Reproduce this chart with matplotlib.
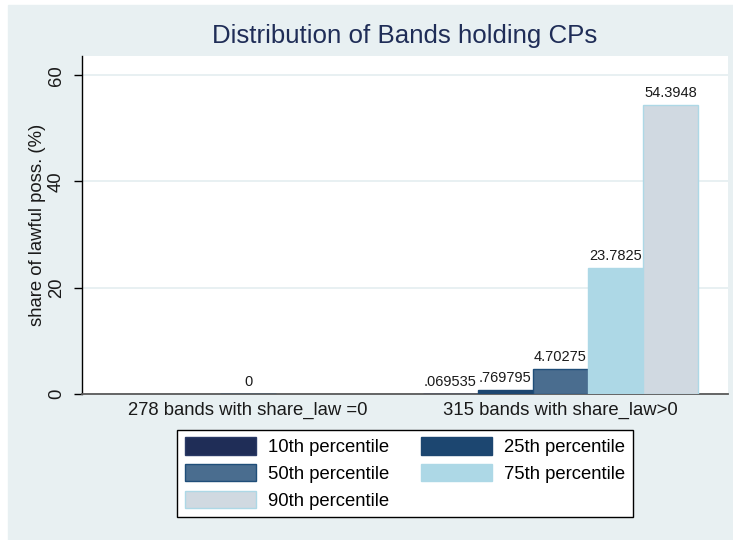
import numpy as np
import matplotlib
matplotlib.use("Agg")
import matplotlib.pyplot as plt
from matplotlib.patches import Rectangle

plt.rcParams["font.family"] = ["Liberation Sans", "DejaVu Sans"]

# ---------------- DATA ----------------
GROUPS = ["278 bands with share_law =0", "315 bands with share_law>0"]
SERIES = ["10th percentile", "25th percentile", "50th percentile",
          "75th percentile", "90th percentile"]
P10 = [np.nan, 0.069535]
P25 = [np.nan, 0.769795]
P50 = [0.0, 4.70275]
P75 = [np.nan, 23.7825]
P90 = [np.nan, 54.3948]
VALUES = [P10, P25, P50, P75, P90]

# ---------------- STYLE ----------------
FILLS = ["#1f2d57", "#1c4670", "#4a6d8f", "#add8e6", "#d0d9e1"]
EDGES = ["#2a3a66", "#1c4670", "#1f4e79", "#add8e6", "#add8e6"]
BG = "#e8f0f2"
FS = 13.3


def stata_fmt(v):
    s = f"{v:g}"
    if s.startswith("0."):
        s = s[1:]
    return s


fig = plt.figure(figsize=(7.33, 5.4), dpi=100, facecolor="white")
fig.patches.append(Rectangle((8 / 733, 0), 725 / 733, 535 / 540,
                             transform=fig.transFigure, color=BG, zorder=-10))

ax = fig.add_axes([81.5 / 733, 1 - 394 / 540, (728 - 81.5) / 733, (394 - 56) / 540])
ax.set_facecolor("white")

x = np.arange(len(GROUPS))
width = 0.1766
handles = []
for j, (name, vals) in enumerate(zip(SERIES, VALUES)):
    pos = x + (j - 2) * width
    bars = ax.bar(pos, vals, width, color=FILLS[j], edgecolor=EDGES[j],
                  linewidth=1, label=name, zorder=3)
    handles.append(bars)
    for px, v in zip(pos, vals):
        if np.isnan(v):
            continue
        ax.annotate(stata_fmt(v), (px, v), xytext=(0, 5.5),
                    textcoords="offset points", ha="center", va="baseline",
                    fontsize=10.5, color="#1a1a1a")

ax.set_xlim(-0.533, 1.536)
ax.set_ylim(0, 63.6)
ax.set_yticks([0, 20, 40, 60])
ax.grid(axis="y", color="#e4edf0", linewidth=1.2, zorder=0)
ax.set_axisbelow(True)

ax.set_xticks(x)
ax.set_xticklabels(GROUPS, fontsize=FS, color="#1a1a1a")
ax.tick_params(axis="x", length=0, pad=5.5)
ax.tick_params(axis="y", length=6, width=1, pad=6, labelsize=FS,
               labelcolor="#1a1a1a")
for lab in ax.get_yticklabels():
    lab.set_rotation(90)
    lab.set_va("center")

for s in ["top", "right"]:
    ax.spines[s].set_visible(False)
ax.spines["left"].set_color("black")
ax.spines["left"].set_linewidth(1)
ax.spines["bottom"].set_color("#5a5a5a")
ax.spines["bottom"].set_linewidth(1.3)

ax.set_ylabel("share of lawful poss. (%)", fontsize=FS, color="#1a1a1a", labelpad=1)

fig.text(404.9 / 733, 1 - 36 / 540, "Distribution of Bands holding CPs",
         ha="center", va="center", fontsize=18.6, color="#1f2d57")

# legend is filled row by row, as in the original
order = [0, 2, 4, 1, 3]
leg = fig.legend([handles[i] for i in order], [SERIES[i] for i in order],
                 loc="center", bbox_to_anchor=(405 / 733, 1 - 473.5 / 540),
                 ncol=2, fontsize=FS, frameon=True, fancybox=False,
                 edgecolor="black", framealpha=1, handlelength=3.85,
                 handleheight=1.05, handletextpad=0.65, columnspacing=1.75,
                 labelspacing=0.42, borderpad=0.4)
leg.get_frame().set_linewidth(1)

fig.savefig("out.png", dpi=100, facecolor=fig.get_facecolor())
